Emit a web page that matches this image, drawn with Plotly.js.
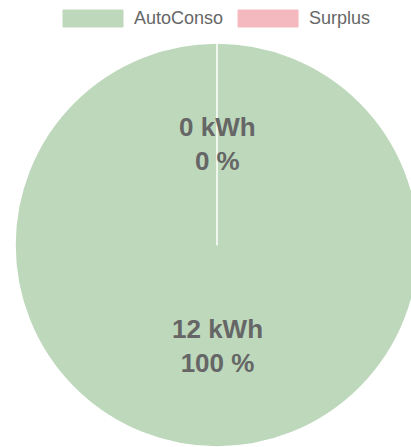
<!DOCTYPE html>
<html>
<head>
<meta charset="utf-8">
<script src="https://cdn.plot.ly/plotly-3.0.1.min.js"></script>
<style>
html,body{margin:0;padding:0;overflow:hidden;background:#fff;}
#chart{width:430px;height:447px;}
</style>
</head>
<body>
<div id="chart"></div>
<script>
var labels = ["AutoConso", "Surplus"];
var values = [12, 0];
var unit = "kWh";
var colors = ["#bdd8bb", "#f4b9be"];

var W = 430, H = 447;
var cx = 217, cy = 245, R = 202;
var FONT = "Liberation Sans, Arial, Helvetica, sans-serif";

function px(x){ return x / W; }
function py(y){ return 1 - y / H; }

var total = values.reduce(function(a,b){return a+b;}, 0);
var annotations = [];
var shapes = [];
var cum = 0;
for (var i = 0; i < values.length; i++) {
  var frac = total ? values[i] / total : 0;
  var mid = (cum + frac / 2) * 2 * Math.PI; // clockwise from top
  cum += frac;
  var lx = cx + Math.sin(mid) * R / 2;
  var ly = cy - Math.cos(mid) * R / 2;
  annotations.push({
    xref: "paper", yref: "paper", x: px(lx), y: py(ly),
    xanchor: "center", yanchor: "middle", showarrow: false,
    text: "<b>" + values[i] + " " + unit + "<br>" + Math.round(frac * 100) + " %</b>",
    font: {family: FONT, size: 26, color: "#666666"},
    align: "center"
  });
}

// custom legend (Chart.js style)
var c = document.createElement("canvas").getContext("2d");
c.font = "18px " + FONT;
var lxPos = 63, boxW = 60, boxTop = 10, boxBot = 27;
for (var j = 0; j < labels.length; j++) {
  shapes.push({
    type: "rect", xref: "paper", yref: "paper",
    x0: px(lxPos), x1: px(lxPos + boxW), y0: py(boxBot), y1: py(boxTop),
    fillcolor: colors[j], line: {color: colors[j], width: 1}
  });
  annotations.push({
    xref: "paper", yref: "paper", x: px(lxPos + boxW + 9), y: py(18.5),
    xanchor: "left", yanchor: "middle", showarrow: false,
    text: labels[j], font: {family: FONT, size: 18, color: "#666666"}
  });
  lxPos += boxW + 9 + c.measureText(labels[j]).width + 17;
}

var trace = {
  type: "pie",
  labels: labels,
  values: values,
  sort: false,
  direction: "clockwise",
  rotation: 0,
  textinfo: "none",
  hoverinfo: "label+value+percent",
  marker: {colors: colors, line: {color: "#ffffff", width: 1.5}},
  domain: {x: [px(cx - R), px(cx + R)], y: [py(cy + R), py(cy - R)]},
  showlegend: false
};

var layout = {
  width: W, height: H,
  margin: {l: 0, r: 0, t: 0, b: 0},
  paper_bgcolor: "#ffffff",
  showlegend: false,
  annotations: annotations,
  shapes: shapes
};

Plotly.newPlot("chart", [trace], layout, {displayModeBar: false, staticPlot: true});
</script>
</body>
</html>
